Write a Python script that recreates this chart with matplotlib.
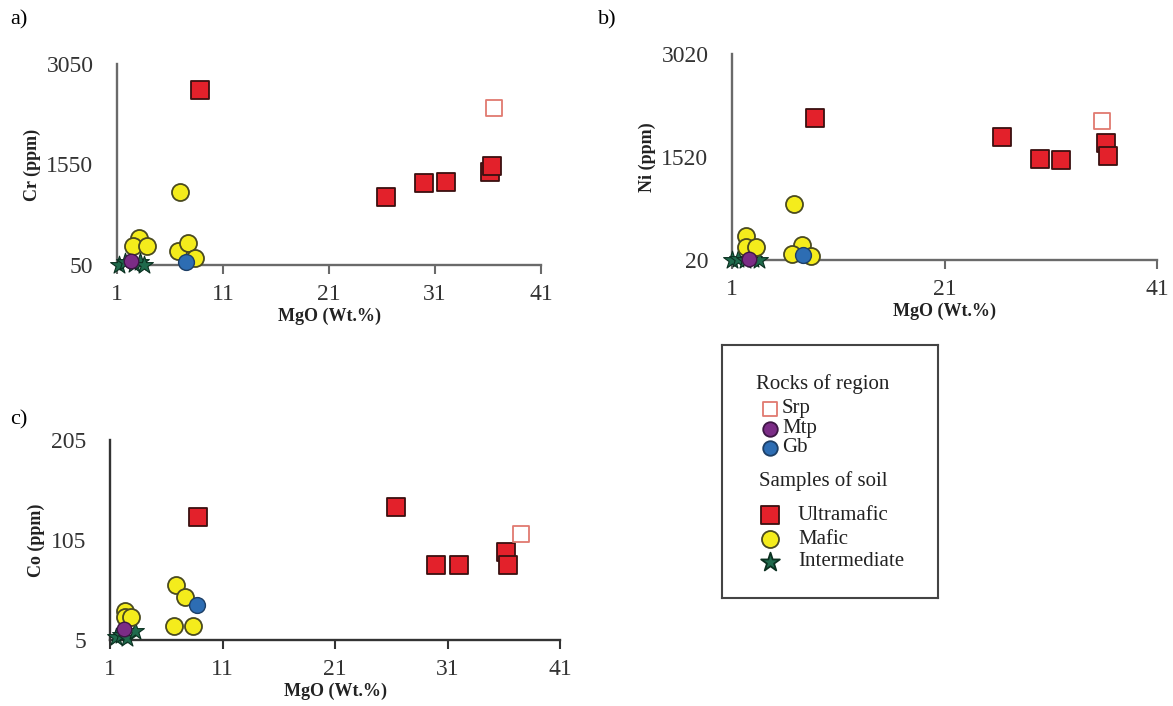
import matplotlib
matplotlib.use("Agg")
import matplotlib.pyplot as plt

plt.rcParams['font.family'] = ['Liberation Serif', 'DejaVu Serif']

# ultramafic soils (shared MgO)
mgo_ultra = [8.8, 26.4, 30.0, 32.0, 36.2, 36.4]
cr_ultra = [2666, 1058, 1270, 1294, 1437, 1525]
ni_ultra = [2086, 1810, 1496, 1472, 1728, 1530]
co_ultra = [127.8, 137.9, 80.5, 80.5, 92.6, 79.8]

# mafic soils
mgo_mafic_cr = [6.9, 3.1, 2.5, 3.8, 6.8, 7.7, 8.4]
cr_mafic = [1142, 453, 335, 335, 261, 384, 148]
mgo_mafic_ni = [6.85, 2.3, 2.3, 3.3, 7.6, 6.6, 8.4]
ni_mafic = [833, 368, 204, 204, 238, 102, 78]
mgo_mafic_co = [6.9, 7.7, 6.7, 8.4, 2.3, 2.3, 2.9]
co_mafic = [60.4, 48, 18.8, 18.8, 33.9, 27.8, 28.4]

# intermediate soils
mgo_inter_cr = [1.2, 1.8, 2.6, 3.2, 3.5]
cr_inter = [55, 90, 60, 100, 55]
mgo_inter_ni = [1.0, 1.6, 2.2, 3.0, 3.5]
ni_inter = [25, 40, 20, 30, 25]
mgo_inter_co = [1.5, 2.0, 2.5, 3.2]
co_inter = [8, 10, 7, 14]

# rocks of region: Srp, Mtp, Gb  (values for Cr, Ni, Co)
srp_mgo = [36.6, 35.8, 37.5]
srp_val = [2386, 2043, 111]
mtp_mgo = [2.3, 2.6, 2.2]
mtp_val = [109, 30, 16]
gb_mgo = [7.55, 7.7, 8.7]
gb_val = [89, 93, 40]

RED, YEL, BLUE, PURP, GRN = '#e3212b', '#f4ec1c', '#2d6db3', '#7b2c86', '#1f6a4c'

W, H = 1173, 706
fig = plt.figure(figsize=(W / 100, H / 100), dpi=100)


def px_axes(x0, y0, x1, y1):
    return fig.add_axes([x0 / W, 1 - y1 / H, (x1 - x0) / W, (y1 - y0) / H])


def style(ax, yticks, xticks, ylabel, axcol):
    for s in ['top', 'right']:
        ax.spines[s].set_visible(False)
    for s in ['left', 'bottom']:
        ax.spines[s].set_color(axcol)
        ax.spines[s].set_linewidth(1.7)
    ax.set_xlim(1, 41)
    ax.set_ylim(yticks[0], yticks[-1])
    ax.set_xticks(xticks)
    ax.set_yticks(yticks)
    ax.tick_params(axis='x', direction='out', length=6.5, width=1.5, color=axcol,
                   labelsize=17, labelcolor='#333333', pad=7)
    ax.tick_params(axis='y', length=0, labelsize=17, labelcolor='#333333', pad=17)
    ax.set_xlabel('MgO (Wt.%)', fontsize=13, fontweight='bold', labelpad=2, color='#222222')
    ax.set_ylabel(ylabel, fontsize=13, fontweight='bold', labelpad=4, color='#222222')


def draw(ax, i, mafic_x, mafic_y, inter_x, inter_y, ultra_y):
    kw = dict(clip_on=False, zorder=3)
    ax.scatter(inter_x, inter_y, marker='*', s=180, c=GRN, edgecolors='#0b3020', linewidths=0.8, **kw)
    ax.scatter(mafic_x, mafic_y, marker='o', s=150, c=YEL, edgecolors='#4a4a20', linewidths=1.3, **kw)
    ax.scatter([gb_mgo[i]], [gb_val[i]], marker='o', s=130, c=BLUE, edgecolors='#1d3f66', linewidths=1, **kw)
    ax.scatter([mtp_mgo[i]], [mtp_val[i]], marker='o', s=110, c=PURP, edgecolors='#3d1644', linewidths=1, **kw)
    ax.scatter(mgo_ultra, ultra_y, marker='s', s=160, c=RED, edgecolors='#3a1010', linewidths=1.3, **kw)
    ax.scatter([srp_mgo[i]], [srp_val[i]], marker='s', s=120, facecolors='white', edgecolors='#e07a70',
               linewidths=1.3, **kw)


ax_a = px_axes(117, 64, 541, 265)
style(ax_a, [50, 1550, 3050], [1, 11, 21, 31, 41], 'Cr (ppm)', '#6a6a6a')
draw(ax_a, 0, mgo_mafic_cr, cr_mafic, mgo_inter_cr, cr_inter, cr_ultra)

ax_b = px_axes(732, 54, 1157, 260)
style(ax_b, [20, 1520, 3020], [1, 21, 41], 'Ni (ppm)', '#6a6a6a')
draw(ax_b, 1, mgo_mafic_ni, ni_mafic, mgo_inter_ni, ni_inter, ni_ultra)

ax_c = px_axes(110, 440, 560, 640)
style(ax_c, [5, 105, 205], [1, 11, 21, 31, 41], 'Co (ppm)', '#333333')
draw(ax_c, 2, mgo_mafic_co, co_mafic, mgo_inter_co, co_inter, co_ultra)

fig.text(10 / W, 1 - 24 / H, 'a)', fontsize=16)
fig.text(598 / W, 1 - 24 / H, 'b)', fontsize=16)
fig.text(10 / W, 1 - 424 / H, 'c)', fontsize=16)

# legend panel
lg = px_axes(722, 345, 938, 598)
lg.set_xlim(722, 938)
lg.set_ylim(598, 345)
lg.set_xticks([])
lg.set_yticks([])
for s in lg.spines.values():
    s.set_color('#444444')
    s.set_linewidth(1.5)

lg.text(756, 384, 'Rocks of region', fontsize=15, va='center', color='#222222')
rows = [
    (409, 's', 'white', '#e07a70', 'Srp'),
    (429, 'o', PURP, '#3d1644', 'Mtp'),
    (448, 'o', BLUE, '#1d3f66', 'Gb'),
]
for y, m, fc, ec, label in rows:
    lg.scatter([770], [y], marker=m, s=110, facecolors=fc, edgecolors=ec, linewidths=1.3)
    lg.text(782, y, label, fontsize=15, va='center', color='#222222')

lg.text(759, 481, 'Samples of soil', fontsize=15, va='center', color='#222222')
rows = [
    (515, 's', RED, '#3a1010', 'Ultramafic'),
    (539, 'o', YEL, '#4a4a20', 'Mafic'),
    (562, '*', GRN, '#0b3020', 'Intermediate'),
]
for y, m, fc, ec, label in rows:
    lg.scatter([770], [y], marker=m, s=200 if m == '*' else 150, facecolors=fc, edgecolors=ec, linewidths=1.3)
    lg.text(798, y, label, fontsize=15, va='center', color='#222222')

fig.savefig('out.png', dpi=100)
